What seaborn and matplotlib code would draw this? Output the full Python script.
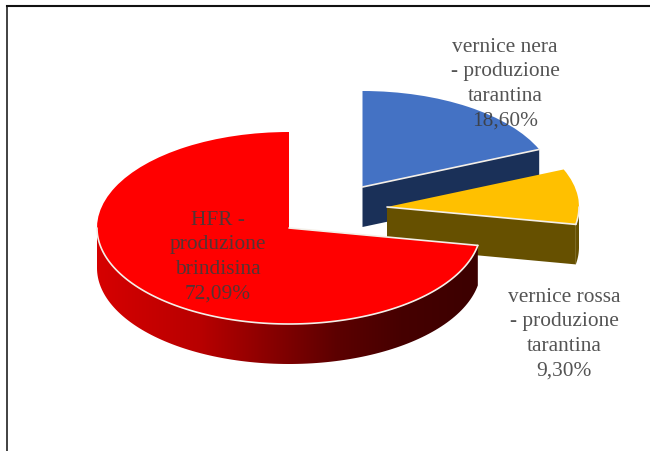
import numpy as np
import matplotlib
matplotlib.use("Agg")
import matplotlib.pyplot as plt
from matplotlib.colors import LinearSegmentedColormap
from matplotlib.patches import Polygon
import seaborn as sns

# ---- data ----
categories = ["vernice nera\n- produzione\ntarantina",
              "vernice rossa\n- produzione\ntarantina",
              "HFR -\nproduzione\nbrindisina"]
values = [18.60, 9.30, 72.09]

# ---- style / layout ----
top_colors = ["#4472c4", "#ffc000", "#ff0000"]
wall_colors = ["#1a3058", "#665000", None]
centers_px = [(362.5, 188.0), (387.0, 208.0), (289.0, 229.0)]
label_px = [(505, 84), (564, 334), (218, 257)]
W, H = 650, 452
RADIUS = 192.0
SQUASH = 2.0      # data-y units per pixel, turns the circle into an ellipse
DEPTH = 40 * SQUASH
FRAME = 6.5


def py(y):
    return (H - y) * SQUASH


sns.set_theme(style="white")
plt.rcParams["font.family"] = ["Liberation Serif", "DejaVu Serif"]

fig = plt.figure(figsize=(W / 100, H / 100), dpi=100, facecolor="white")
ax = fig.add_axes([FRAME / W, 0, 1 - FRAME / W, 1 - FRAME / H])

wedges, _ = ax.pie(values, colors=top_colors, startangle=90, counterclock=False,
                   radius=RADIUS, wedgeprops=dict(linewidth=0))


def arc(c, t1, t2, n=120):
    t = np.radians(np.linspace(t1, t2, n))
    return c[0] + RADIUS * np.cos(t), c[1] + RADIUS * np.sin(t)


def white_line(xs, ys, z):
    ax.plot(xs, ys, color="#f4efe8", lw=1.2, zorder=z, solid_capstyle="round", scalex=False, scaley=False)


red_cmap = LinearSegmentedColormap.from_list(
    "wall", [(0.0, "#d60000"), (0.27, "#b80000"), (0.45, "#8a0000"),
             (0.63, "#5c0000"), (0.80, "#460000"), (1.0, "#3c0000")])

for i, w in enumerate(wedges):
    c = (centers_px[i][0], py(centers_px[i][1]))
    w.set_center(c)
    base = 1 + 3 * i
    w.set_zorder(base + 2)
    t1, t2 = w.theta1, w.theta2
    if i < 2:
        # flat cut face that looks toward the viewer
        ex, ey = arc(c, t1, t1, 1)
        face = np.array([[c[0], c[1]], [ex[0], ey[0]], [ex[0], ey[0] - DEPTH], [c[0], c[1] - DEPTH]])
        ax.add_patch(Polygon(face, closed=True, fc=wall_colors[i], ec="none", zorder=base))
        white_line([c[0], ex[0]], [c[1], ey[0]], base + 2.5)
        if t1 < 0:
            ax_, ay_ = arc(c, t1, 0, 20)
            rim = np.column_stack([np.r_[ax_, ax_[::-1]], np.r_[ay_, ay_[::-1] - DEPTH]])
            ax.add_patch(Polygon(rim, closed=True, fc=wall_colors[i], ec="none", zorder=base))
            white_line(ax_, ay_, base + 2.5)
    else:
        # curved front wall with a left-to-right shading
        ax_, ay_ = arc(c, -180, t2)
        rim = np.column_stack([np.r_[ax_, ax_[::-1]], np.r_[ay_, ay_[::-1] - DEPTH]])
        clip = Polygon(rim, closed=True, fc="none", ec="none", zorder=base)
        ax.add_patch(clip)
        im = ax.imshow(np.linspace(0, 1, 256)[None, :], cmap=red_cmap, aspect="auto",
                       extent=(ax_.min(), ax_.max(), rim[:, 1].min(), rim[:, 1].max()),
                       zorder=base)
        im.set_clip_path(clip)
        white_line(ax_, ay_, base + 2.5)
        ex, ey = arc(c, t2, t2, 1)
        white_line([c[0], ex[0]], [c[1], ey[0]], base + 2.5)

for name, val, (lx, ly) in zip(categories, values, label_px):
    ax.text(lx, py(ly), f"{name}\n{val:.2f}%".replace(".", ","), ha="center", va="center",
            fontsize=15.4, color="#3c3c3c", alpha=0.88, linespacing=1.4, zorder=30)

ax.set_aspect("auto")
ax.set_xlim(FRAME, W)
ax.set_ylim(0, py(FRAME))
ax.set_xticks([])
ax.set_yticks([])
ax.set_frame_on(True)
sns.despine(ax=ax, top=False, left=False, right=True, bottom=True)
ax.spines["top"].set(color="#111111", linewidth=1.5)
ax.spines["left"].set(color="#333333", linewidth=1.3)

fig.savefig("out.png", dpi=100, facecolor="white")
